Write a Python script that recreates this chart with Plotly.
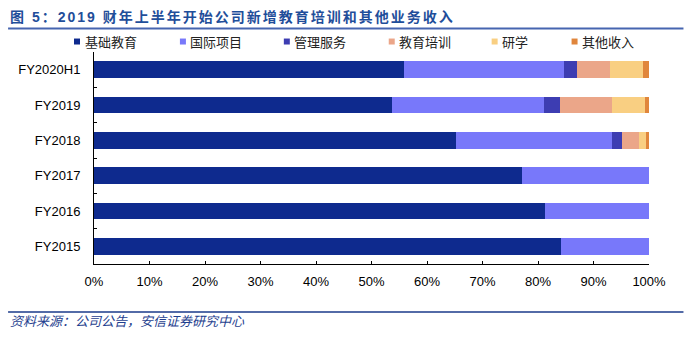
import plotly.graph_objects as go

# Revenue mix by fiscal period (% of total revenue)
periods = ["FY2020H1", "FY2019", "FY2018", "FY2017", "FY2016", "FY2015"]
series_names = ["基础教育", "国际项目", "管理服务", "教育培训", "研学", "其他收入"]
basic_edu = [55.8, 53.7, 65.2, 77.1, 81.3, 84.1]
intl_program = [28.8, 27.3, 28.2, 22.9, 18.7, 15.9]
mgmt_service = [2.5, 2.9, 1.8, 0, 0, 0]
edu_training = [5.9, 9.5, 3.0, 0, 0, 0]
study_tour = [5.9, 5.8, 1.3, 0, 0, 0]
other_income = [1.1, 0.8, 0.5, 0, 0, 0]
x_ticks = [0, 10, 20, 30, 40, 50, 60, 70, 80, 90, 100]
x_tick_labels = ["0%", "10%", "20%", "30%", "40%", "50%", "60%", "70%", "80%", "90%", "100%"]

series_values = [basic_edu, intl_program, mgmt_service, edu_training, study_tour, other_income]
colors = ["#0E2A8E", "#7878FA", "#3D3DB2", "#EBA689", "#F9CF82", "#E0863C"]

W, H = 685, 339
L, R, T, B = 94, 35.5, 52, 74.5
PW, PH = W - L - R, H - T - B


def px(x):
    """pixel x -> paper x"""
    return (x - L) / PW


def py(y):
    """pixel y (from top) -> paper y"""
    return (H - B - y) / PH


fig = go.Figure()
for name, vals, col in zip(series_names, series_values, colors):
    fig.add_trace(go.Bar(
        y=periods, x=vals, name=name, orientation="h",
        marker=dict(color=col, line=dict(width=0)),
        showlegend=False,
    ))

cjk = "Liberation Sans, Arial, Noto Sans CJK SC, sans-serif"

annotations = [
    dict(text='<span style="letter-spacing:2px"><b>图 5：2019 财年上半年开始公司新增教育培训和其他业务收入</b></span>',
         x=px(8), y=py(17), xref="paper", yref="paper", xanchor="left", yanchor="middle",
         showarrow=False, font=dict(family=cjk, size=14, color="#1F4E9A")),
    dict(text="<i>资料来源：公司公告，安信证券研究中心</i>",
         x=px(8), y=py(322), xref="paper", yref="paper", xanchor="left", yanchor="middle",
         showarrow=False, font=dict(family=cjk, size=13, color="#1F3F8F")),
]

shapes = [
    dict(type="line", xref="paper", yref="paper", x0=px(8), x1=px(684), y0=py(28.5), y1=py(28.5),
         line=dict(color="#4665B0", width=2)),
    dict(type="line", xref="paper", yref="paper", x0=px(8), x1=px(684), y0=py(312.5), y1=py(312.5),
         line=dict(color="#1A3A8A", width=1.5)),
]

# custom legend row
legend_x = [74, 180, 284, 389, 492, 572]
for name, col, lx in zip(series_names, colors, legend_x):
    shapes.append(dict(type="rect", xref="paper", yref="paper",
                       x0=px(lx), x1=px(lx + 6), y0=py(44.5), y1=py(38.5),
                       fillcolor=col, line=dict(width=0)))
    annotations.append(dict(text=name, x=px(lx + 8.5), y=py(41.5), xref="paper", yref="paper",
                            xanchor="left", yanchor="middle", showarrow=False,
                            font=dict(family="Noto Sans CJK SC, sans-serif", size=13, color="#222222")))

fig.update_layout(
    width=W, height=H,
    margin=dict(l=L, r=R, t=T, b=B, pad=0),
    barmode="stack", bargap=0.535,
    plot_bgcolor="white", paper_bgcolor="white",
    annotations=annotations, shapes=shapes,
    xaxis=dict(range=[0, 100], tickmode="array", tickvals=x_ticks, ticktext=x_tick_labels,
               showgrid=False, zeroline=False,
               showline=True, linecolor="black", linewidth=1, ticks="inside", ticklen=3,
               tickcolor="black", ticklabelstandoff=5,
               tickfont=dict(family="Liberation Sans, Arial, sans-serif", size=13, color="black")),
    yaxis=dict(categoryorder="array", categoryarray=periods, autorange="reversed",
               showgrid=False, zeroline=False, showline=True, linecolor="black", linewidth=1,
               ticks="inside", ticklen=3, tickcolor="black", tickson="boundaries",
               ticklabelstandoff=10,
               tickfont=dict(family="Liberation Sans, Arial, sans-serif", size=13, color="black")),
)

fig.write_html("out.html")
